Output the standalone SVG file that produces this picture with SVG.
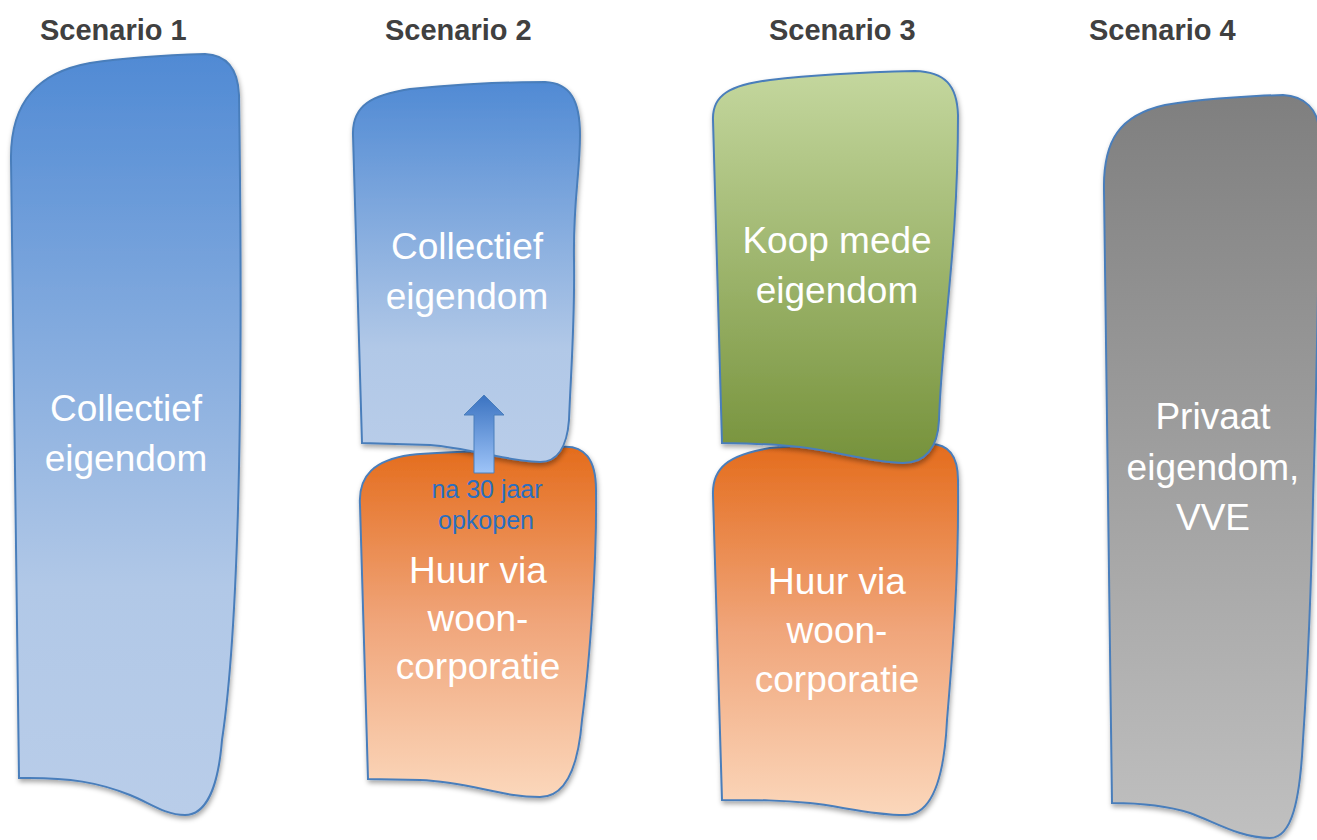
<svg xmlns="http://www.w3.org/2000/svg" width="1317" height="840" viewBox="0 0 1317 840">
<defs>
<linearGradient id="gBlue" x1="0" y1="0" x2="0" y2="1">
<stop offset="0" stop-color="#508ad4"/>
<stop offset="0.7" stop-color="#b1c8e7"/>
<stop offset="1" stop-color="#b9cde9"/>
</linearGradient>
<linearGradient id="gOrange" x1="0" y1="0" x2="0" y2="1">
<stop offset="0" stop-color="#e46c1c"/>
<stop offset="0.5" stop-color="#f0a57a"/>
<stop offset="1" stop-color="#fbd7bb"/>
</linearGradient>
<linearGradient id="gGreen" x1="0" y1="0" x2="0" y2="1">
<stop offset="0" stop-color="#c4d79e"/>
<stop offset="1" stop-color="#76923b"/>
</linearGradient>
<linearGradient id="gGray" x1="0" y1="0" x2="0" y2="1">
<stop offset="0" stop-color="#7f7f7f"/>
<stop offset="1" stop-color="#c0c0c0"/>
</linearGradient>
<linearGradient id="gArrow" x1="0" y1="0" x2="0" y2="1">
<stop offset="0" stop-color="#3b73c1"/>
<stop offset="1" stop-color="#9ec4f8"/>
</linearGradient>
<filter id="shadow" x="-10%" y="-10%" width="120%" height="120%">
<feDropShadow dx="1" dy="3" stdDeviation="2.5" flood-color="#000" flood-opacity="0.35"/>
</filter>
</defs>
<style>
.shape{stroke:#4a7ebb;stroke-width:2;filter:url(#shadow);}
.title{font-family:"Liberation Sans",Arial,sans-serif;font-weight:bold;font-size:29px;fill:#404040;}
.lbl{font-family:"Liberation Sans",Arial,sans-serif;font-size:37px;fill:#ffffff;text-anchor:middle;}
.note{font-family:"Liberation Sans",Arial,sans-serif;font-size:25px;fill:#2a6fc0;text-anchor:middle;}
</style>
<rect width="1317" height="840" fill="#ffffff"/>

<g id="titles">
<text class="title" x="40" y="40">Scenario 1</text>
<text class="title" x="385" y="40">Scenario 2</text>
<text class="title" x="769" y="40">Scenario 3</text>
<text class="title" x="1089" y="40">Scenario 4</text>
</g>

<g id="s1-collectief">
<path class="shape" fill="url(#gBlue)" d="M19,778 L11,160 C10,100 40,72 90,63 C130,57 170,55 205,54 C228,55 238,70 239,95 C242,300 243,600 222,740 C218,790 205,815 185,815 C165,815 150,803 130,795 C100,783 70,777 19,778 Z"/>
<text class="lbl" x="126" y="421">Collectief</text>
<text class="lbl" x="126" y="471">eigendom</text>
</g>

<g id="s2-huur">
<path class="shape" fill="url(#gOrange)" d="M368,779 L360,505 C358,475 375,460 410,455 C460,450 520,452 560,447 C585,444 596,460 596,490 C597,560 590,660 582,720 C578,770 565,797 540,797 C500,797 470,782 420,780 Z"/>
<text class="lbl" x="478" y="583">Huur via</text>
<text class="lbl" x="478" y="631">woon-</text>
<text class="lbl" x="478" y="679">corporatie</text>
</g>

<g id="s2-collectief">
<path class="shape" fill="url(#gBlue)" d="M362,443 L353,135 C352,105 372,95 410,89 C460,84 510,82 545,82 C570,83 580,100 580,135 C580,175 573,200 574,260 C575,320 571,370 569,420 C567,447 557,462 540,462 C505,461 470,448 430,445 Z"/>
<text class="lbl" x="467" y="259">Collectief</text>
<text class="lbl" x="467" y="309">eigendom</text>
</g>

<g id="connectors">
<path fill="url(#gArrow)" stroke="#4a7ebb" stroke-width="1" d="M474,473 L474,415 L464,415 L484,395 L504,415 L494,415 L494,473 Z"/>
</g>

<g id="s2-note">
<text class="note" x="487" y="498">na 30 jaar</text>
<text class="note" x="486" y="529">opkopen</text>
</g>

<g id="s3-huur">
<path class="shape" fill="url(#gOrange)" d="M722,800 L713,495 C712,468 728,455 770,448 C830,443 880,446 930,444 C950,444 958,458 958,480 C959,580 952,660 947,720 C944,785 930,815 905,815 C870,815 840,806 810,803 C780,800 760,800 722,800 Z"/>
<text class="lbl" x="837" y="594">Huur via</text>
<text class="lbl" x="837" y="643">woon-</text>
<text class="lbl" x="837" y="692">corporatie</text>
</g>

<g id="s3-koop">
<path class="shape" fill="url(#gGreen)" d="M722,443 L713,120 C712,95 730,85 770,80 C820,74 870,72 915,71 C945,72 957,85 958,115 C958,250 942,330 939,420 C938,448 925,463 903,463 C870,462 840,452 800,447 C770,444 750,443 722,443 Z"/>
<text class="lbl" x="837" y="253">Koop mede</text>
<text class="lbl" x="837" y="303">eigendom</text>
</g>

<g id="s4-privaat">
<path class="shape" fill="url(#gGray)" d="M1112,803 L1104,190 C1103,140 1120,115 1165,105 C1210,98 1250,96 1283,95 C1305,96 1318,110 1319,130 C1320,250 1316,400 1313,500 C1311,600 1307,680 1303,740 C1300,800 1292,838 1270,838 C1240,838 1215,822 1190,813 C1165,805 1140,803 1112,803 Z"/>
<text class="lbl" x="1213" y="429">Privaat</text>
<text class="lbl" x="1213" y="480">eigendom,</text>
<text class="lbl" x="1213" y="530">VVE</text>
</g>
</svg>
